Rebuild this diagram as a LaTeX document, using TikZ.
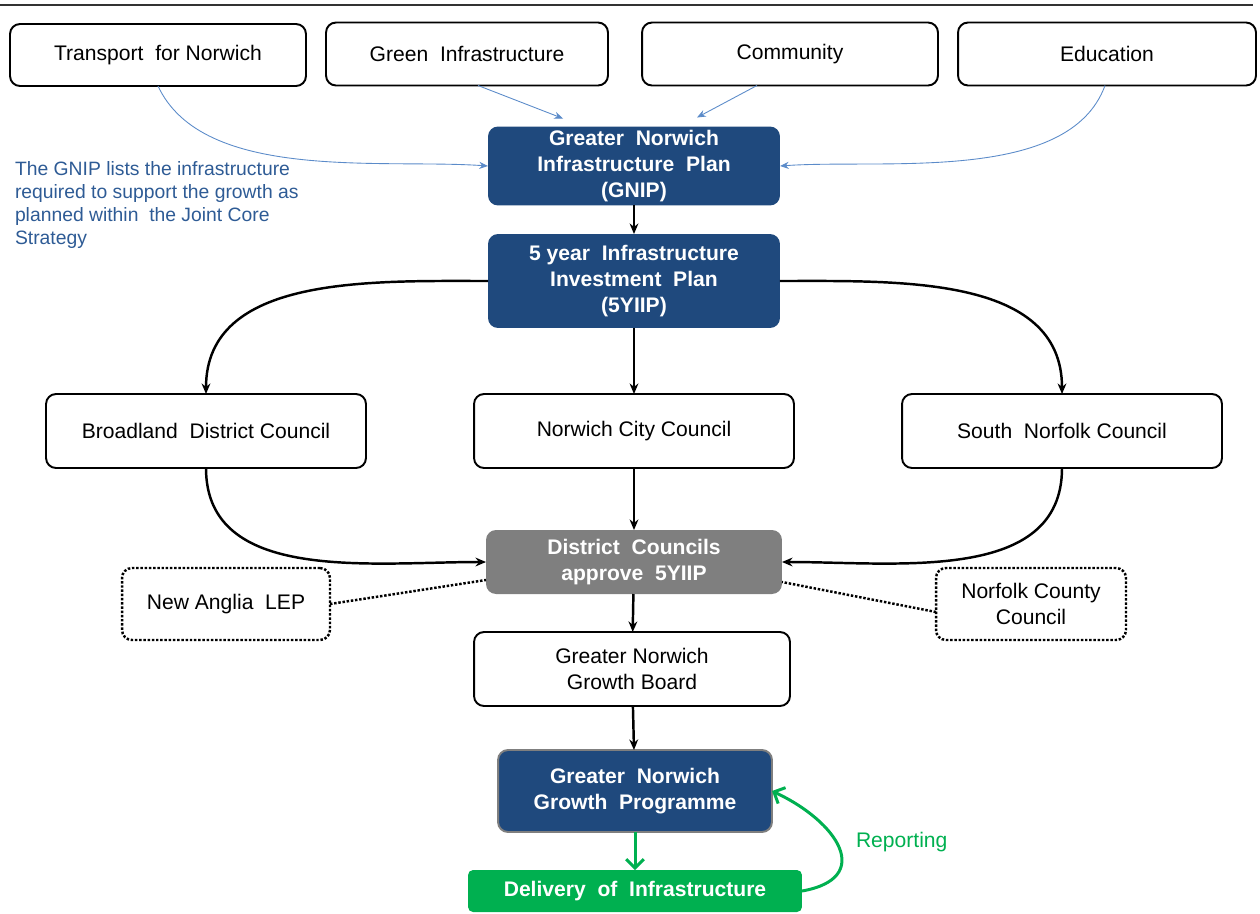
\documentclass[tikz,border=0pt]{standalone}
\usepackage{fontspec}
\setmainfont{Liberation Sans}
\usetikzlibrary{arrows.meta}
\definecolor{planblue}{HTML}{1F497D}
\definecolor{linkblue}{HTML}{5B8BC9}
\definecolor{noteblue}{HTML}{2E5B95}
\definecolor{approvegray}{HTML}{7F7F7F}
\definecolor{deliverygreen}{HTML}{00B050}
\begin{document}
\begin{tikzpicture}[x=0.02cm,y=-0.02cm,
  every node/.style={inner sep=0,outer sep=0,align=center,font=\fontsize{12}{15}\selectfont},
  whitebox/.style={draw,line width=1.1pt,rounded corners=0.2cm,fill=white},
  bluebox/.style={fill=planblue,text=white,rounded corners=0.2cm,font=\fontsize{12}{15}\selectfont\bfseries},
  dotbox/.style={draw,line width=1.4pt,densely dotted,rounded corners=0.2cm},
  flow/.style={line width=1.4pt,-{Stealth[length=6pt,width=5pt]}},
  feed/.style={linkblue,line width=0.5pt,-{Stealth[length=5pt,width=4pt]}},
  link/.style={line width=1.4pt,densely dotted},
  green flow/.style={deliverygreen,line width=1.7pt,-{Straight Barb[length=5pt,width=10pt]}}]
  \useasboundingbox (0,0) rectangle (1260,913);
  \draw[line width=0.6pt,black!80] (0,5) -- (1253,5);

  %% Inputs along the top.
  \node[whitebox,minimum width=5.92cm,minimum height=1.24cm] (TfN) at (158,55) {Transport\ \ for Norwich};
  \node[whitebox,minimum width=5.64cm,minimum height=1.26cm] (GreenInf) at (467,54) {Green\ \ Infrastructure};
  \node[whitebox,minimum width=5.92cm,minimum height=1.26cm] (Community) at (790,54) {Community};
  \node[whitebox,minimum width=5.96cm,minimum height=1.26cm] (Education) at (1107,54) {Education};

  %% Plans.
  \node[bluebox,minimum width=5.84cm,minimum height=1.58cm] (GNIP) at (634,166)
    {Greater\ \ Norwich\\Infrastructure\ \ Plan\\(GNIP)};
  \node[bluebox,minimum width=5.84cm,minimum height=1.88cm] (FiveYIIP) at (634,281)
    {5 year\ \ Infrastructure\\Investment\ \ Plan\\(5YIIP)};
  \node[anchor=north west,align=left,text=noteblue,font=\fontsize{11}{13.1}\selectfont] (Note) at (15,161)
    {The GNIP lists the infrastructure\\required to support the growth as\\planned within\ \ the Joint Core\\Strategy};

  %% Councils.
  \node[whitebox,minimum width=6.4cm,minimum height=1.48cm] (Broadland) at (206,431) {Broadland\ \ District Council};
  \node[whitebox,minimum width=6.4cm,minimum height=1.48cm] (NCC) at (634,431) {Norwich City Council};
  \node[whitebox,minimum width=6.4cm,minimum height=1.48cm] (SNC) at (1062,431) {South\ \ Norfolk Council};

  %% Approval.
  \node[fill=approvegray,text=white,rounded corners=0.2cm,font=\fontsize{12}{15}\selectfont\bfseries,
    minimum width=5.92cm,minimum height=1.28cm] (District) at (634,562) {District\ \ Councils\\approve\ \ 5YIIP};
  \node[dotbox,minimum width=4.16cm,minimum height=1.44cm] (LEP) at (226,604) {New Anglia\ \ LEP};
  \node[dotbox,minimum width=3.8cm,minimum height=1.44cm] (NCountyC) at (1031,604) {Norfolk County\\Council};
  \node[whitebox,minimum width=6.32cm,minimum height=1.48cm] (GNGB) at (632,669) {Greater Norwich\\Growth\ Board};

  %% Programme and delivery.
  \node[bluebox,draw=approvegray,line width=1.1pt,minimum width=5.48cm,minimum height=1.64cm] (GNGP) at (635,791)
    {Greater\ \ Norwich\\Growth\ \ Programme};
  \node[fill=deliverygreen,text=white,rounded corners=0.1cm,font=\fontsize{12}{15}\selectfont\bfseries,
    minimum width=6.68cm,minimum height=0.84cm] (Delivery) at (635,891) {Delivery\ \ of\ \ Infrastructure};
  \node[text=deliverygreen,anchor=west] (Reporting) at (856,842) {Reporting};

  \draw[feed] (TfN.south) to[out=-65,in=176,looseness=0.8] (GNIP.west);
  \draw[feed] ([xshift=0.22cm]GreenInf.south) -- ([xshift=-1.42cm,yshift=0.16cm]GNIP.north);
  \draw[feed] ([xshift=-0.66cm]Community.south) -- ([xshift=1.26cm,yshift=0.18cm]GNIP.north);
  \draw[feed] ([xshift=-0.04cm]Education.south) to[out=-110,in=4,looseness=0.8] (GNIP.east);

  \draw[flow] (GNIP) -- (FiveYIIP);
  \draw[flow] (FiveYIIP.west) to[out=180,in=90] (Broadland.north);
  \draw[flow] (FiveYIIP) -- (NCC);
  \draw[flow] (FiveYIIP.east) to[out=0,in=90] (SNC.north);

  \draw[flow] (Broadland.south) to[out=-90,in=180] (District.west);
  \draw[flow] (NCC) -- (District);
  \draw[flow] (SNC.south) to[out=-90,in=0] (District.east);
  \draw[link] (LEP.east) -- ([yshift=-0.36cm]District.west);
  \draw[link] ([yshift=-0.16cm]NCountyC.west) -- ([yshift=-0.4cm]District.east);

  \draw[flow] (District) -- (GNGB);
  \draw[flow] (GNGB) -- (GNGP);
  \draw[green flow] (GNGP) -- (Delivery);
  \draw[green flow] (Delivery.east) to[out=10,in=-25,looseness=1.8] (GNGP.east);
\end{tikzpicture}
\end{document}
